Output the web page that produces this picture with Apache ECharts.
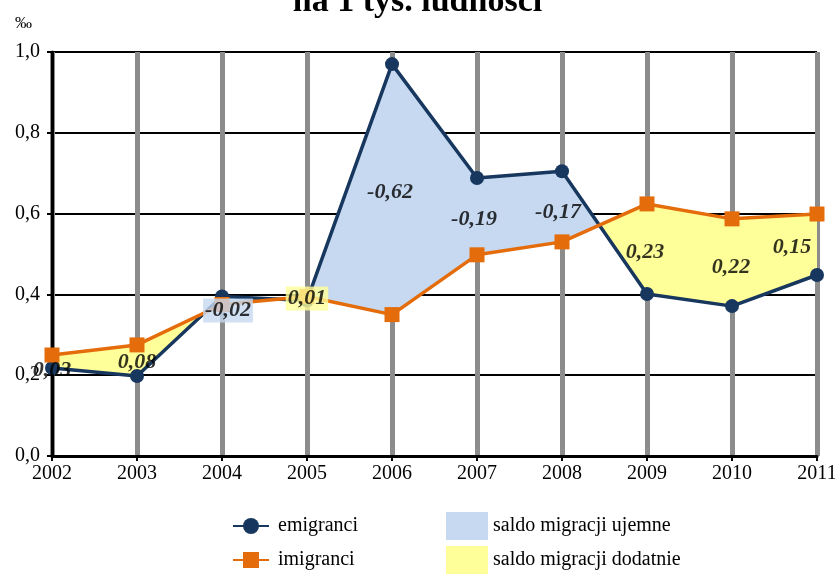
<!DOCTYPE html>
<html lang="pl">
<head>
    <meta charset="UTF-8">
    <title>Migracje</title>
    <script type="text/javascript" src="https://cdn.jsdelivr.net/npm/echarts@6/dist/echarts.min.js"></script>
    <style>
        html, body { margin: 0; padding: 0; background: #fff; }
    </style>
</head>
<body>
<div id="main" style="width: 835px;height:574px;"></div>
<script type="text/javascript">
var years = ['2002','2003','2004','2005','2006','2007','2008','2009','2010','2011'];
var emigranci = [0.218, 0.198, 0.395, 0.385, 0.970, 0.688, 0.705, 0.401, 0.371, 0.448];
var imigranci = [0.250, 0.275, 0.375, 0.395, 0.350, 0.498, 0.530, 0.624, 0.587, 0.599];
var saldo = ['0,03', '0,08', '-0,02', '0,01', '-0,62', '-0,19', '-0,17', '0,23', '0,22', '0,15'];
var yTicks = ['0,0', '0,2', '0,4', '0,6', '0,8', '1,0'];

var serif = 'Liberation Serif';
var blueFill = '#c6d9f0';
var yellowFill = '#ffff99';

// label nudges for a few crowded points
var labelOffsets = { 0: [0, 9], 1: [0, 2], 2: [6, 10], 4: [-2, 3], 5: [-3, 3], 6: [-4, 6], 7: [-2, 3], 8: [-1, 5], 9: [-25, 3] };
var labelBg = { 2: blueFill, 3: yellowFill };

var segments = [];
for (var i = 0; i < years.length - 1; i++) segments.push([i]);

function areaRenderer(sign) {
    return function (params, api) {
        var i = params.dataIndex;
        var e0 = api.coord([i, emigranci[i]]), e1 = api.coord([i + 1, emigranci[i + 1]]);
        var m0 = api.coord([i, imigranci[i]]), m1 = api.coord([i + 1, imigranci[i + 1]]);
        var d0 = imigranci[i] - emigranci[i], d1 = imigranci[i + 1] - emigranci[i + 1];
        var polys = [];
        if (d0 * d1 >= 0) {
            if ((d0 + d1) * sign > 0) polys.push([e0, e1, m1, m0]);
        } else {
            var t = d0 / (d0 - d1);
            var c = [e0[0] + t * (e1[0] - e0[0]), e0[1] + t * (e1[1] - e0[1])];
            if (d0 * sign > 0) polys.push([e0, c, m0]);
            if (d1 * sign > 0) polys.push([c, e1, m1]);
        }
        return {
            type: 'group',
            children: polys.map(function (p) {
                return {
                    type: 'polygon',
                    shape: { points: p },
                    style: { fill: sign > 0 ? yellowFill : blueFill }
                };
            })
        };
    };
}

var labelData = years.map(function (y, i) {
    var item = { value: [i, (emigranci[i] + imigranci[i]) / 2] };
    var lab = {};
    if (labelOffsets[i]) lab.offset = labelOffsets[i];
    if (labelBg[i]) { lab.backgroundColor = labelBg[i]; lab.padding = [1, 2, 1, 2]; }
    item.label = lab;
    return item;
});

var myChart = echarts.init(document.getElementById('main'));
var option = {
    animation: false,
    title: {
        text: 'na 1 tys. ludności',
        left: 'center',
        top: -20,
        textStyle: { fontFamily: serif, fontSize: 34, fontWeight: 'bold', color: '#000' }
    },
    grid: { left: 52, right: 18, top: 52, bottom: 118, outerBoundsMode: 'none' },
    legend: [{
        data: ['emigranci', 'imigranci'],
        orient: 'vertical',
        left: 232,
        top: 516,
        padding: 0,
        itemGap: 14,
        itemWidth: 36,
        itemHeight: 20,
        textStyle: { fontFamily: serif, fontSize: 20, color: '#000', padding: [0, 0, 0, 4] }
    }, {
        data: ['saldo migracji ujemne', 'saldo migracji dodatnie'],
        orient: 'vertical',
        left: 446,
        top: 512,
        padding: 0,
        itemGap: 6,
        itemWidth: 42,
        itemHeight: 28,
        itemStyle: { borderWidth: 0 },
        icon: 'rect',
        textStyle: { fontFamily: serif, fontSize: 20, color: '#000' }
    }],
    xAxis: {
        type: 'category',
        data: years,
        boundaryGap: false,
        axisLine: { lineStyle: { color: '#000', width: 3 } },
        axisTick: { show: true, length: 5, lineStyle: { color: '#000', width: 2 } },
        axisLabel: { fontFamily: serif, fontSize: 20, color: '#000', margin: 8 },
        splitLine: { show: true, lineStyle: { color: '#8c8c8c', width: 5 } }
    },
    yAxis: {
        type: 'value',
        min: 0,
        max: 1,
        interval: 0.2,
        name: '‰',
        nameGap: 20,
        nameTextStyle: { fontFamily: serif, fontSize: 17, color: '#000', align: 'right', padding: [0, 20, 0, 0] },
        axisLine: { show: true, lineStyle: { color: '#000', width: 3 } },
        axisTick: { show: true, length: 5, lineStyle: { color: '#000', width: 2 } },
        axisLabel: {
            fontFamily: serif, fontSize: 20, color: '#000', margin: 12,
            formatter: function (v) { return yTicks[Math.round(v / 0.2)]; }
        },
        splitLine: { show: true, lineStyle: { color: '#000', width: 2 } }
    },
    series: [{
        name: 'saldo migracji ujemne',
        type: 'custom',
        renderItem: areaRenderer(-1),
        itemStyle: { color: blueFill },
        data: segments,
        z: 1
    }, {
        name: 'saldo migracji dodatnie',
        type: 'custom',
        renderItem: areaRenderer(1),
        itemStyle: { color: yellowFill },
        data: segments,
        z: 1
    }, {
        name: 'emigranci',
        type: 'line',
        data: emigranci,
        symbol: 'circle',
        symbolSize: 14,
        itemStyle: { color: '#17375e' },
        lineStyle: { color: '#17375e', width: 3.5 },
        z: 3
    }, {
        name: 'imigranci',
        type: 'line',
        data: imigranci,
        symbol: 'rect',
        symbolSize: 15,
        itemStyle: { color: '#e46c0a' },
        lineStyle: { color: '#e46c0a', width: 3.5 },
        z: 4
    }, {
        name: 'saldo',
        type: 'scatter',
        data: labelData,
        symbolSize: 0,
        z: 5,
        label: {
            show: true,
            position: 'inside',
            fontFamily: serif,
            fontSize: 22,
            fontWeight: 'bold',
            fontStyle: 'italic',
            color: '#000',
            formatter: function (p) { return saldo[p.dataIndex]; }
        }
    }]
};
myChart.setOption(option);
</script>
</body>
</html>
